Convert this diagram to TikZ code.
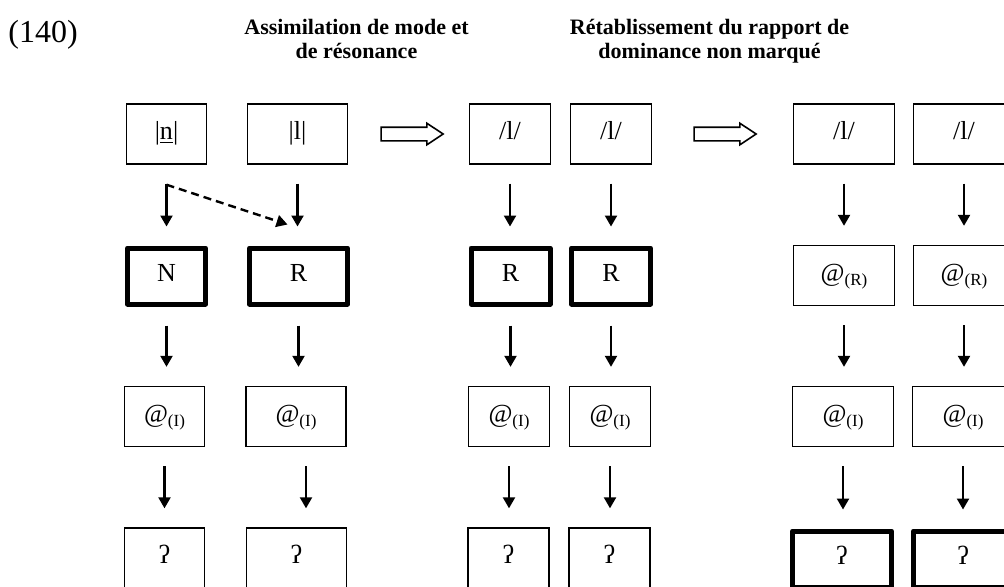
\documentclass[tikz,border=0pt]{standalone}
\usepackage{fontspec}
\setmainfont{Liberation Serif}
\usetikzlibrary{arrows.meta,shapes.arrows}
\newcommand\mysub[1]{{\fontsize{8.5}{9}\selectfont\raisebox{-2pt}{#1}}}
\begin{document}
\begin{tikzpicture}[x=0.5pt,y=-0.5pt,
  box/.style={draw,line width=0.7pt,inner sep=0pt,minimum height=30pt,
    text height=9pt,text depth=3.4pt,font=\fontsize{13}{15}\selectfont},
  tbox/.style={box,line width=2.5pt,line join=round,minimum height=28pt},
  wA/.style={minimum width=40pt},
  wB/.style={minimum width=50pt},
  wC/.style={minimum width=40.5pt},
  wD/.style={minimum width=50.5pt},
  tA/.style={minimum width=39pt},
  tB/.style={minimum width=49pt},
  tC/.style={minimum width=39.5pt},
  tD/.style={minimum width=49.5pt},
  arr/.style={line width=1.1pt,-{Triangle[length=5.5pt,width=6pt]},
    shorten <=9.5pt,shorten >=9.5pt},
  darr/.style={line width=1.2pt,dash pattern=on 4pt off 2.5pt,
    -{Triangle[length=5.5pt,width=6pt]}},
  hollow/.style={single arrow,draw,line width=0.8pt,inner sep=3pt,
    minimum height=31pt,single arrow head extend=2pt,single arrow tip angle=67},
  ttl/.style={anchor=north,align=center,inner sep=0pt,
    font=\bfseries\fontsize{11}{12}\selectfont}]
\clip (0,0) rectangle (1004,586);
% titles
\node[anchor=base west,inner sep=0pt,font=\fontsize{16}{18}\selectfont] (num) at (8,42) {(140)};
\node[ttl] (t1) at (356.5,19) {Assimilation de mode et\\de résonance};
\node[ttl] (t2) at (709.5,19) {Rétablissement du rapport de\\dominance non marqué};
% row 1
\node[box,wA] (a1) at (166.5,134) {|\underline{n}|};
\node[box,wB] (b1) at (297.5,134) {|l|};
\node[box,wC] (c1) at (510,134) {/l/};
\node[box,wC] (d1) at (611,134) {/l/};
\node[box,wD] (e1) at (844,134) {/l/};
\node[box,wD] (f1) at (964,134) {/l/};
% row 2
\node[tbox,tA] (a2) at (166.5,276) {N};
\node[tbox,tB] (b2) at (298.5,276) {R};
\node[tbox,tC] (c2) at (510.5,276) {R};
\node[tbox,tC] (d2) at (611,276) {R};
\node[box,wD] (e2) at (844,275.5) {@\mysub{(R)}};
\node[box,wD] (f2) at (964,275.5) {@\mysub{(R)}};
% row 3
\node[box,wA] (a3) at (164.5,416.5) {@\mysub{(I)}};
\node[box,wB] (b3) at (296,416.5) {@\mysub{(I)}};
\node[box,wC] (c3) at (509,416.5) {@\mysub{(I)}};
\node[box,wC] (d3) at (610,416.5) {@\mysub{(I)}};
\node[box,wD] (e3) at (843,416.5) {@\mysub{(I)}};
\node[box,wD] (f3) at (963,416.5) {@\mysub{(I)}};
% row 4
\node[box,wA] (a4) at (164.5,558) {ʔ};
\node[box,wB] (b4) at (296.3,558) {ʔ};
\node[box,wC] (c4) at (508.5,558) {ʔ};
\node[box,wC] (d4) at (609.5,558) {ʔ};
\node[tbox,tD] (e4) at (842,559) {ʔ};
\node[tbox,tD] (f4) at (963,559) {ʔ};
% hollow arrows
\node[hollow] (h1) at (407,134) {};
\node[hollow] (h2) at (720,134) {};
% vertical arrows
\foreach \u/\v in {a1/a2,b1/b2,c1/c2,d1/d2,e1/e2,f1/f2,
                   a2/a3,b2/b3,c2/c3,d2/d3,e2/e3,f2/f3,
                   a3/a4,c3/c4,d3/d4,e3/e4,f3/f4}
  \draw[arr] (\u.south) -- (\u.south |- \v.north);
\draw[arr] ([xshift=5pt]b3.south) -- ([xshift=5pt]b3.south |- b4.north);
% dashed arrow
\coordinate (ds) at ([yshift=-10pt]a1.south);
\coordinate (de) at ([shift={(-5.5pt,10.5pt)}]b2.north);
\draw[darr] (ds) -- (de);
\end{tikzpicture}
\end{document}
